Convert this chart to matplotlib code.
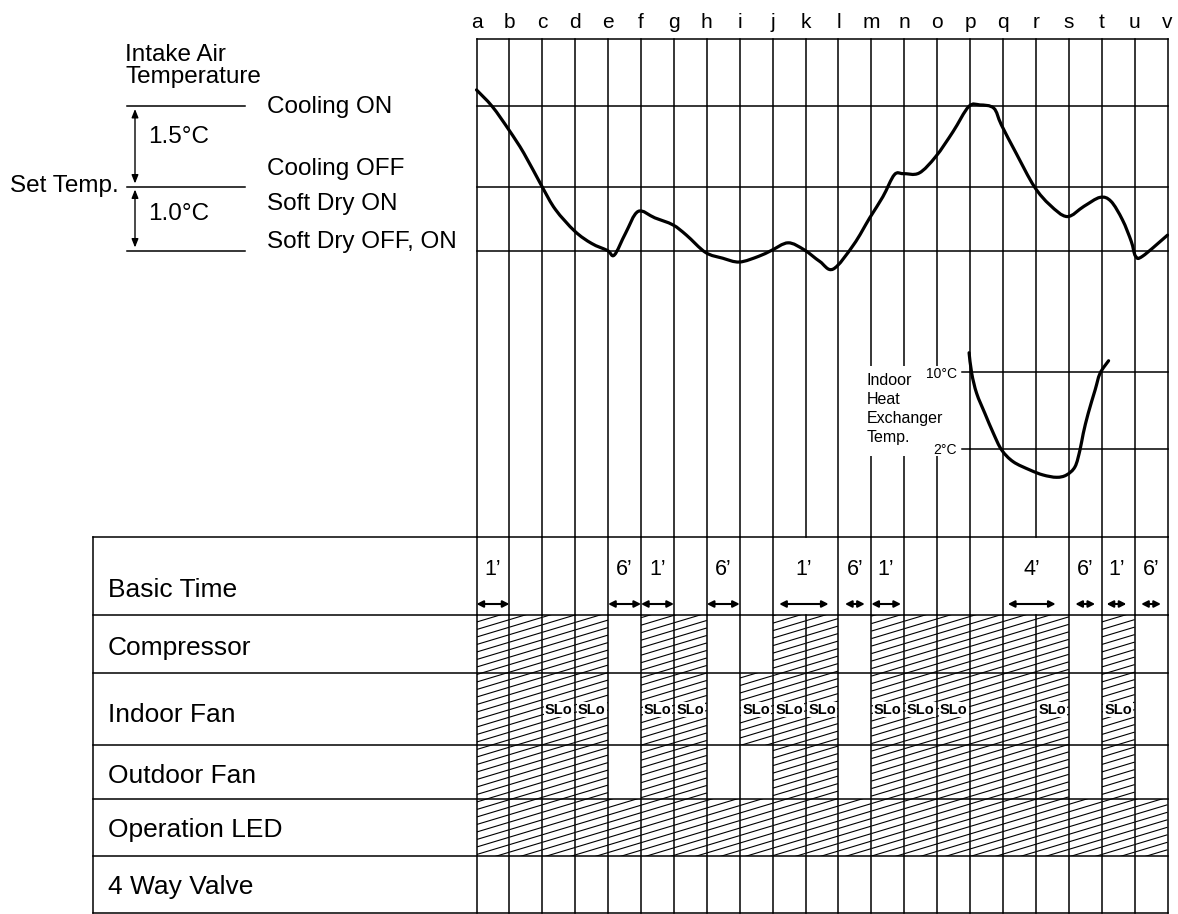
import numpy as np
import matplotlib.pyplot as plt
from matplotlib.patches import Rectangle, PathPatch
from matplotlib.collections import LineCollection
from matplotlib.path import Path

plt.rcParams['font.family'] = ['Liberation Sans', 'DejaVu Sans']

# ---- data ----
columns = list('abcdefghijklmnopqrstuv')

# intake air temperature, in degC relative to set temp, position in column units (a = 0)
air_t = [0.00, 0.48, 0.99, 1.44, 1.99, 2.40, 2.99, 3.50, 3.98, 4.19, 4.53, 4.91,
         5.42, 5.97, 6.38, 6.96, 7.48, 7.99, 8.58, 8.96, 9.47, 9.96, 10.43, 10.84,
         11.46, 11.95, 12.35, 12.70, 12.97, 13.45, 13.96, 14.48, 14.96, 15.30, 15.72,
         15.95, 16.40, 16.95, 17.43, 17.95, 18.46, 18.95, 19.28, 19.63, 19.90, 20.03,
         20.24, 21.00]
air_level = [1.80, 1.49, 1.05, 0.62, 0.00, -0.36, -0.70, -0.89, -1.00, -1.07, -0.73, -0.39,
             -0.49, -0.60, -0.76, -1.03, -1.12, -1.18, -1.09, -1.00, -0.88, -0.99, -1.17, -1.29,
             -0.91, -0.49, -0.16, 0.22, 0.24, 0.25, 0.56, 1.02, 1.49, 1.52, 1.46,
             1.15, 0.62, 0.00, -0.29, -0.47, -0.31, -0.17, -0.23, -0.52, -0.86, -1.09,
             -1.09, -0.76]

# indoor heat exchanger temperature (degC)
hx_t = [14.97, 15.05, 15.20, 15.45, 15.71, 15.96, 16.31, 16.82, 17.22, 17.63, 17.93,
        18.19, 18.34, 18.44, 18.59, 18.80, 18.95, 19.21]
hx_temp = [12.0, 9.86, 7.78, 5.70, 3.62, 1.90, 0.68, -0.18, -0.70, -0.94, -0.70,
           0.16, 1.90, 3.62, 5.70, 8.13, 9.86, 11.17]

# basic time marks
basic_labels = ['1’', '6’', '1’', '6’', '1’', '6’', '1’', '4’', '6’', '1’', '6’']
basic_start = [0.0, 4.0, 5.0, 7.0, 9.2, 11.2, 12.0, 16.15, 18.2, 19.15, 20.2]
basic_end = [1.0, 5.0, 6.0, 8.0, 10.7, 11.8, 12.9, 17.6, 18.8, 19.75, 20.8]

row_names = ['Basic Time', 'Compressor', 'Indoor Fan', 'Outdoor Fan', 'Operation LED', '4 Way Valve']
compressor = [1, 1, 1, 1, 0, 1, 1, 0, 0, 1, 1, 0, 1, 1, 1, 1, 1, 1, 0, 1, 0]
indoor_fan = ['on', 'on', 'SLo', 'SLo', '', 'SLo', 'SLo', '', 'SLo', 'SLo', 'SLo', '',
              'SLo', 'SLo', 'SLo', 'on', 'on', 'SLo', '', 'SLo', '']
outdoor_fan = [1, 1, 1, 1, 0, 1, 1, 0, 0, 1, 1, 0, 1, 1, 1, 1, 1, 1, 0, 1, 0]
operation_led = [1] * 21
four_way = [0] * 21

# ---- layout (pixels) ----
W, H = 1178, 914
GX0, GX1 = 476.5, 1167.5
TOP = 39
Y_ON, Y_SET, Y_OFF = 106, 186.5, 250.5
Y_10C, Y_2C = 372, 449
ROWS = [537, 615, 673, 745, 799, 856, 913]
TX0 = 93
LW = 1.1


def cx(t):
    return GX0 + np.asarray(t, dtype=float) * (GX1 - GX0) / 21


def level_y(v):
    v = np.asarray(v, dtype=float)
    return np.where(v >= 0, Y_SET - v * (Y_SET - Y_ON) / 1.5, Y_SET - v * (Y_OFF - Y_SET))


def hx_y(tc):
    return Y_2C - (np.asarray(tc, dtype=float) - 2) * (Y_2C - Y_10C) / 8


def smooth_curve(xs, ys, **kw):
    # catmull-rom through the points, drawn as cubic bezier segments
    pts = np.column_stack([xs, ys])
    n = len(pts)
    verts = [pts[0]]
    codes = [Path.MOVETO]
    for i in range(n - 1):
        p0 = pts[max(i - 1, 0)]
        p1, p2 = pts[i], pts[i + 1]
        p3 = pts[min(i + 2, n - 1)]
        verts += [p1 + (p2 - p0) / 6, p2 - (p3 - p1) / 6, p2]
        codes += [Path.CURVE4] * 3
    ax.add_patch(PathPatch(Path(verts, codes), fill=False, **kw))


fig = plt.figure(figsize=(11.78, 9.14), dpi=100)
ax = fig.add_axes([0, 0, 1, 1])
ax.set_xlim(0, W)
ax.set_ylim(H, 0)
ax.axis('off')


def hatch(x0, x1, y0, y1):
    rect = Rectangle((x0, y0), x1 - x0, y1 - y0, facecolor='none', edgecolor='none')
    ax.add_patch(rect)
    s, sp = 0.3, 7.5
    cmin, cmax = y0 + s * x0, y1 + s * x1
    cs = np.arange(np.floor(cmin / sp) * sp, cmax + sp, sp)
    segs = [[(x0, c - s * x0), (x1, c - s * x1)] for c in cs]
    lc = LineCollection(segs, colors='black', linewidths=0.8, zorder=1)
    ax.add_collection(lc)
    lc.set_clip_path(rect)


# vertical column lines
for i, name in enumerate(columns):
    x = cx(i)
    ax.plot([x, x], [TOP, ROWS[0]], color='black', lw=LW, zorder=2)
    if i not in (10, 17):
        ax.plot([x, x], [ROWS[0], ROWS[1]], color='black', lw=LW, zorder=2)
    ax.plot([x, x], [ROWS[1], ROWS[-1]], color='black', lw=LW, zorder=2)
    ax.text(x, 28.5, name, ha='center', va='baseline', fontsize=15)

ax.plot([cx(0), cx(21)], [TOP, TOP], color='black', lw=LW, zorder=2)
for y in (Y_ON, Y_SET, Y_OFF):
    ax.plot([cx(0), cx(21)], [y, y], color='black', lw=LW, zorder=2)
    ax.plot([127, 245], [y, y], color='black', lw=LW, zorder=2)

# table frame
for y in ROWS:
    ax.plot([TX0, cx(21)], [y, y], color='black', lw=LW, zorder=2)
ax.plot([TX0, TX0], [ROWS[0], ROWS[-1]], color='black', lw=LW, zorder=2)
label_base = [596.7, 655, 721.7, 783.3, 837.3, 894]
for name, yb in zip(row_names, label_base):
    ax.text(108, yb, name, ha='left', va='baseline', fontsize=19)

# hatched states
states = [compressor, [1 if s else 0 for s in indoor_fan], outdoor_fan, operation_led, four_way]
for r, row in enumerate(states):
    y0, y1 = ROWS[r + 1], ROWS[r + 2]
    for i, on in enumerate(row):
        if on:
            hatch(cx(i), cx(i + 1), y0, y1)
ymid = (ROWS[2] + ROWS[3]) / 2
for i, s in enumerate(indoor_fan):
    if s == 'SLo':
        ax.add_patch(Rectangle((cx(i) + 1.5, ymid - 7), cx(i + 1) - cx(i) - 3, 15,
                               facecolor='white', edgecolor='none', zorder=1.5))
        ax.text((cx(i) + cx(i + 1)) / 2, ymid + 1, 'SLo', ha='center', va='center',
                fontsize=10.5, fontweight='bold', zorder=3,
                family=['Liberation Sans Narrow', 'Liberation Sans'])

# basic time
for lab, a, b in zip(basic_labels, basic_start, basic_end):
    ax.text((cx(a) + cx(b)) / 2, 575, lab, ha='center', va='baseline', fontsize=15.5)
    ax.annotate('', xy=(cx(b), 604), xytext=(cx(a), 604),
                arrowprops=dict(arrowstyle='<|-|>,head_length=0.55,head_width=0.28',
                                color='black', lw=1.5, shrinkA=0, shrinkB=0,
                                mutation_scale=7))

# intake air curve
smooth_curve(cx(air_t), level_y(air_level), color='black', lw=2.3,
             joinstyle='round', capstyle='round', zorder=5)

# heat exchanger part
for y, lab in ((Y_10C, '10°C'), (Y_2C, '2°C')):
    ax.plot([cx(15), cx(21)], [y, y], color='black', lw=LW, zorder=2)
    ax.plot([cx(15) - 8, cx(15)], [y, y], color='black', lw=LW, zorder=4)
ax.add_patch(Rectangle((862, 366), 95, 90, facecolor='white', edgecolor='none', zorder=3))
ax.text(957, Y_10C + 1.5, '10°C', ha='right', va='center', fontsize=10, zorder=4)
ax.text(957, Y_2C + 1.5, '2°C', ha='right', va='center', fontsize=10, zorder=4)
for txt, yb in zip(['Indoor', 'Heat', 'Exchanger', 'Temp.'], [385, 404, 423, 441.7]):
    ax.text(867, yb, txt, ha='left', va='baseline', fontsize=11.5, zorder=4)
smooth_curve(cx(hx_t), hx_y(hx_temp), color='black', lw=2.3,
             joinstyle='round', capstyle='round', zorder=5)

# left legend of temperature levels
ax.text(125, 61, 'Intake Air', ha='left', va='baseline', fontsize=17.5)
ax.text(125, 82.5, 'Temperature', ha='left', va='baseline', fontsize=17.5)
ax.text(266.7, 113.3, 'Cooling ON', ha='left', va='baseline', fontsize=17.5)
ax.text(266.7, 175, 'Cooling OFF', ha='left', va='baseline', fontsize=17.5)
ax.text(266.7, 210, 'Soft Dry ON', ha='left', va='baseline', fontsize=17.5)
ax.text(266.7, 248.3, 'Soft Dry OFF, ON', ha='left', va='baseline', fontsize=17.5)
ax.text(148.3, 143.3, '1.5°C', ha='left', va='baseline', fontsize=17.5)
ax.text(148.3, 220, '1.0°C', ha='left', va='baseline', fontsize=17.5)
ax.text(10, 191.7, 'Set Temp.', ha='left', va='baseline', fontsize=17.5)
for a, b in ((Y_ON + 3, Y_SET - 3), (Y_SET + 3, Y_OFF - 3)):
    ax.annotate('', xy=(135, b), xytext=(135, a),
                arrowprops=dict(arrowstyle='<|-|>,head_length=0.5,head_width=0.2',
                                color='black', lw=1.0, shrinkA=0, shrinkB=0,
                                mutation_scale=10))

fig.savefig('out.png', dpi=100, facecolor='white')
